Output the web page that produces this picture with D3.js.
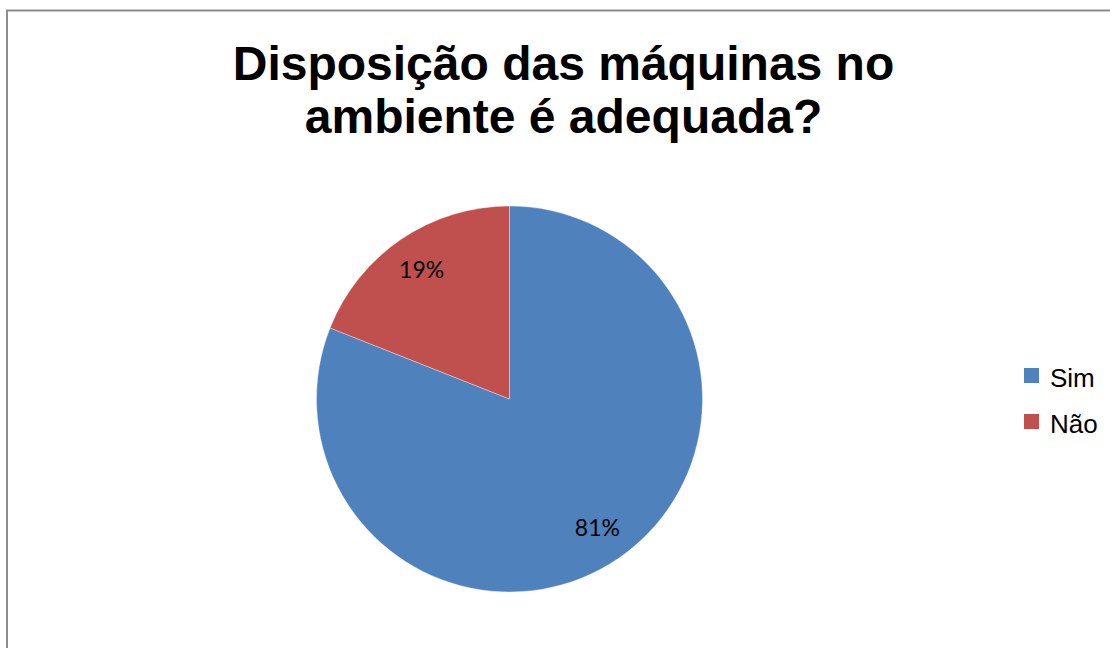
<!DOCTYPE html>
<html>
<head>
<meta charset="utf-8">
<script src="https://cdn.jsdelivr.net/npm/d3@7/dist/d3.min.js"></script>
<style>
  html, body { margin: 0; padding: 0; background: #fff; }
  svg { display: block; }
</style>
</head>
<body>
<svg id="chart" width="1110" height="648"></svg>
<script>
// Survey answers: is the machine layout in the room adequate?
const categories = ["Sim", "Não"];
const values = [81, 19];
const colors = ["#4F81BD", "#C0504D"];
const titleLines = ["Disposição das máquinas no", "ambiente é adequada?"];

const svg = d3.select("#chart");
const W = 1110, H = 648;

// chart area frame (extends past the right and bottom edges)
svg.append("rect")
  .attr("x", 7).attr("y", 10.5)
  .attr("width", W + 20).attr("height", H + 20)
  .attr("fill", "#fff")
  .attr("stroke", "#8c8c8c")
  .attr("stroke-width", 2);

// title
const title = svg.append("text")
  .attr("text-anchor", "middle")
  .attr("font-family", "'Liberation Sans', Arial, sans-serif")
  .attr("font-weight", "bold")
  .attr("font-size", 48)
  .attr("fill", "#000");
titleLines.forEach((t, i) => {
  title.append("tspan").attr("x", 563.5).attr("y", 80 + i * 53).text(t);
});

// pie
const cx = 509.5, cy = 399, r = 193;
const pie = d3.pie().sort(null).value(d => d.value);
const data = pie(categories.map((c, i) => ({ name: c, value: values[i] })));
const arc = d3.arc().innerRadius(0).outerRadius(r);
const color = d3.scaleOrdinal().domain(categories).range(colors);

const g = svg.append("g").attr("transform", `translate(${cx},${cy})`);
g.selectAll("path")
  .data(data)
  .join("path")
  .attr("d", arc)
  .attr("fill", d => color(d.data.name))
  .attr("stroke", "#fff")
  .attr("stroke-width", 0.6)
  .attr("stroke-opacity", 0.6);

// percentage labels
const total = d3.sum(values);
const labelArc = d3.arc().innerRadius(r * 0.81).outerRadius(r * 0.81);
g.selectAll("text.lbl")
  .data(data)
  .join("text")
  .attr("class", "lbl")
  .attr("transform", d => `translate(${labelArc.centroid(d)})`)
  .attr("text-anchor", "middle")
  .attr("dy", "0.35em")
  .attr("font-family", "Lato, 'Open Sans', sans-serif")
  .attr("font-size", 23)
  .attr("fill", "#000")
  .text(d => Math.round(d.data.value / total * 100) + "%");

// legend
const legend = svg.append("g").attr("transform", "translate(1024,368)");
const items = legend.selectAll("g")
  .data(categories)
  .join("g")
  .attr("transform", (d, i) => `translate(0,${i * 46})`);
items.append("rect")
  .attr("width", 15).attr("height", 15)
  .attr("fill", d => color(d));
items.append("text")
  .attr("x", 26).attr("y", 19)
  .attr("font-family", "'Liberation Sans', Arial, sans-serif")
  .attr("font-size", 26)
  .attr("fill", "#000")
  .text(d => d);
</script>
</body>
</html>
